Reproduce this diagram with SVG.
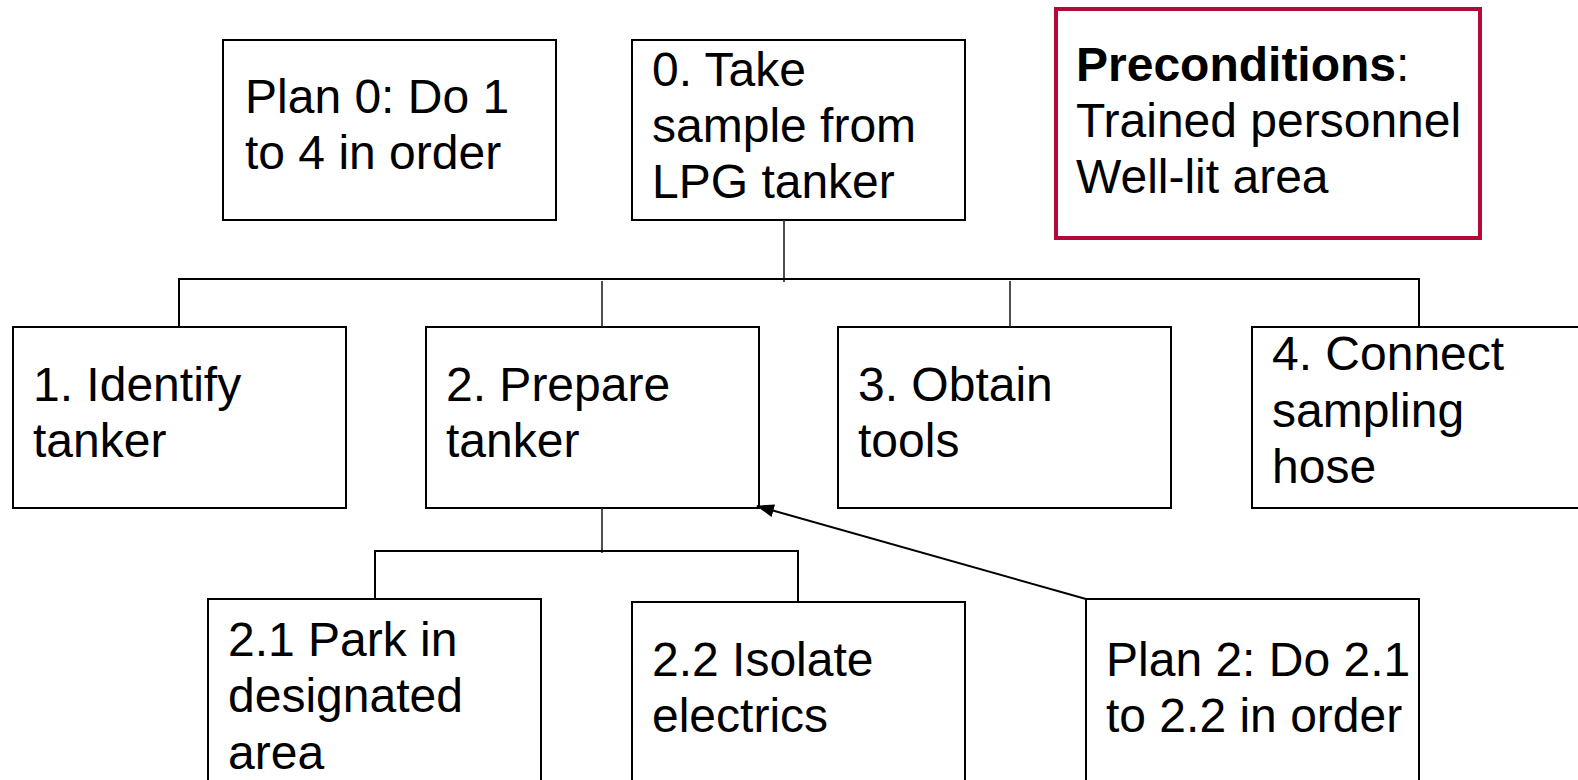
<svg xmlns="http://www.w3.org/2000/svg" width="1578" height="780" viewBox="0 0 1578 780">
<style>
.box{fill:#fff;stroke:#000;stroke-width:2}
.pre{fill:#fff;stroke:#B5083A;stroke-width:4}
.t{font-family:"Liberation Sans",Arial,Helvetica,sans-serif;font-size:48px;fill:#000}
.b{font-weight:bold}
.c{fill:none;stroke:#000;stroke-width:2}
.v{fill:none;stroke:#222;stroke-width:1.6}
</style>
<defs>
<marker id="ah" viewBox="0 0 18 13" refX="17" refY="6.5" markerWidth="18" markerHeight="13" markerUnits="userSpaceOnUse" orient="auto">
<path d="M0,0 L18,6.5 L0,13 z" fill="#000"/>
</marker>
</defs>
<rect width="1578" height="780" fill="#fff"/>
<g id="plan0">
<rect class="box" x="223" y="40" width="333" height="180"/>
<text class="t" x="245" y="113">Plan 0: Do 1</text>
<text class="t" x="245" y="169">to 4 in order</text>
</g>
<g id="node0">
<rect class="box" x="632" y="40" width="333" height="180"/>
<text class="t" x="652" y="86">0. Take</text>
<text class="t" x="652" y="142">sample from</text>
<text class="t" x="652" y="198">LPG tanker</text>
</g>
<g id="preconditions">
<rect class="pre" x="1056" y="9" width="424" height="229"/>
<text class="t" x="1076" y="81"><tspan class="b">Preconditions</tspan>:</text>
<text class="t" x="1076" y="137">Trained personnel</text>
<text class="t" x="1076" y="193">Well-lit area</text>
</g>
<g id="node1">
<rect class="box" x="13" y="327" width="333" height="181"/>
<text class="t" x="33" y="401">1. Identify</text>
<text class="t" x="33" y="457">tanker</text>
</g>
<g id="node2">
<rect class="box" x="426" y="327" width="333" height="181"/>
<text class="t" x="446" y="401">2. Prepare</text>
<text class="t" x="446" y="457">tanker</text>
</g>
<g id="node3">
<rect class="box" x="838" y="327" width="333" height="181"/>
<text class="t" x="858" y="401">3. Obtain</text>
<text class="t" x="858" y="457">tools</text>
</g>
<g id="node4">
<rect class="box" x="1252" y="327" width="340" height="181"/>
<text class="t" x="1272" y="370">4. Connect</text>
<text class="t" x="1272" y="427">sampling</text>
<text class="t" x="1272" y="483">hose</text>
</g>
<g id="node2_1">
<rect class="box" x="208" y="599" width="333" height="190"/>
<text class="t" x="228" y="656">2.1 Park in</text>
<text class="t" x="228" y="712">designated</text>
<text class="t" x="228" y="769">area</text>
</g>
<g id="node2_2">
<rect class="box" x="632" y="602" width="333" height="190"/>
<text class="t" x="652" y="676">2.2 Isolate</text>
<text class="t" x="652" y="732">electrics</text>
</g>
<g id="plan2">
<rect class="box" x="1086" y="599" width="333" height="190"/>
<text class="t" x="1106" y="676">Plan 2: Do 2.1</text>
<text class="t" x="1106" y="732">to 2.2 in order</text>
</g>
<g id="connectors">
<line class="v" x1="784" y1="220" x2="784" y2="282"/>
<polyline class="c" points="179,327 179,279 1419,279 1419,327"/>
<line class="v" x1="602" y1="281" x2="602" y2="327"/>
<line class="v" x1="1010" y1="281" x2="1010" y2="327"/>
<line class="v" x1="602" y1="508" x2="602" y2="553"/>
<polyline class="c" points="375,599 375,551 798,551 798,602"/>
<line class="c" x1="1086" y1="599" x2="757" y2="506" marker-end="url(#ah)"/>
</g>
</svg>
